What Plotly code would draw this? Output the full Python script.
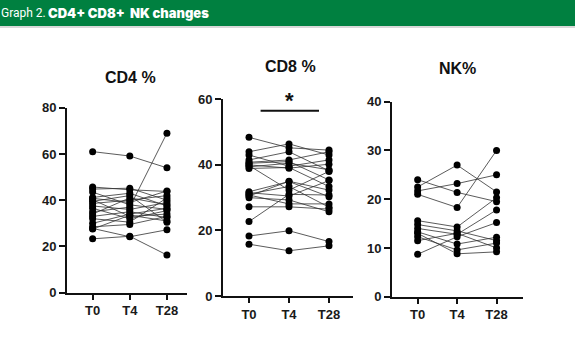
import plotly.graph_objects as go

timepoints = ["T0", "T4", "T28"]

cd4_t0 = [61.0, 45.7, 44.8, 43.5, 41.2, 40.2, 39.5, 38.6, 37.5, 36.5, 34.0, 33.0, 32.0, 30.0, 28.5, 27.8, 27.5, 23.3, 40.8, 35.0]
cd4_t4 = [59.1, 44.5, 45.2, 38.0, 43.0, 33.0, 42.0, 40.0, 36.0, 32.0, 41.0, 35.0, 30.5, 34.0, 29.5, 24.2, 33.5, 24.4, 39.0, 37.0]
cd4_t28 = [54.0, 43.8, 40.0, 36.0, 37.5, 34.0, 30.5, 42.0, 39.0, 35.5, 38.0, 32.5, 41.0, 36.5, 33.0, 27.2, 31.0, 16.3, 44.0, 69.0]

cd8_t0 = [48.4, 44.0, 43.0, 41.5, 40.5, 40.0, 39.4, 38.9, 31.8, 31.1, 30.8, 30.5, 30.0, 27.2, 22.7, 18.3, 15.8, 40.8, 39.8, 31.5]
cd8_t4 = [45.2, 46.4, 39.6, 44.0, 41.0, 39.0, 40.5, 39.2, 34.9, 33.4, 28.1, 35.0, 29.3, 27.2, 31.0, 19.9, 13.8, 41.5, 32.3, 30.5]
cd8_t28 = [44.5, 43.0, 41.5, 38.2, 35.4, 40.2, 38.5, 33.4, 30.3, 27.1, 28.1, 32.3, 25.7, 26.5, 30.8, 16.6, 15.3, 44.0, 38.0, 35.2]

nk_t0 = [24.0, 22.5, 21.7, 21.0, 15.6, 14.8, 14.0, 13.3, 12.3, 11.5, 8.7, 13.0]
nk_t4 = [21.4, 27.0, 23.2, 18.3, 14.3, 13.5, 12.8, 10.8, 9.6, 13.0, 12.3, 8.8]
nk_t28 = [19.5, 21.5, 25.0, 30.0, 20.3, 11.5, 17.8, 12.2, 11.0, 10.0, 15.2, 9.2]

panels = [
    ("CD4 %", [cd4_t0, cd4_t4, cd4_t28], [0, 20, 40, 60, 80], 80),
    ("CD8 %", [cd8_t0, cd8_t4, cd8_t28], [0, 20, 40, 60], 60),
    ("NK%", [nk_t0, nk_t4, nk_t28], [0, 10, 20, 30, 40], 40),
]

W, H = 575, 363
geom = [
    dict(xl=67, xr=187, y0=292.7, y1=107.7, rng=[-0.69, 2.54]),
    dict(xl=223, xr=353, y0=296.0, y1=99.3, rng=[-0.65, 2.6]),
    dict(xl=392, xr=523, y0=296.7, y1=101.7, rng=[-0.65, 2.67]),
]
title_pos = [(130, 77), (290, 66), (457, 68)]

fig = go.Figure()
font_fam = "Liberation Sans, Arial, sans-serif"
tickfont = dict(family=font_fam, size=13, color="#1a1a1a", weight="bold")

for i, (title, series, yticks, ymax) in enumerate(panels):
    n = i + 1
    xa = "x" if n == 1 else f"x{n}"
    ya = "y" if n == 1 else f"y{n}"
    lx, ly = [], []
    for s in range(len(series[0])):
        for t in range(3):
            lx.append(t)
            ly.append(series[t][s])
        lx.append(None)
        ly.append(None)
    fig.add_trace(go.Scatter(x=lx, y=ly, mode="lines", xaxis=xa, yaxis=ya,
                             line=dict(color="rgba(50,50,50,0.8)", width=1),
                             hoverinfo="skip", showlegend=False))
    mx, my = [], []
    for t in range(3):
        for v in series[t]:
            mx.append(t)
            my.append(v)
    fig.add_trace(go.Scatter(x=mx, y=my, mode="markers", xaxis=xa, yaxis=ya,
                             marker=dict(color="black", size=7),
                             showlegend=False))
    g = geom[i]
    xkey = "xaxis" if n == 1 else f"xaxis{n}"
    ykey = "yaxis" if n == 1 else f"yaxis{n}"
    fig.update_layout(**{
        xkey: dict(domain=[g["xl"] / W, g["xr"] / W], anchor=ya, range=g["rng"],
                   tickmode="array", tickvals=[0, 1, 2], ticktext=timepoints,
                   showgrid=False, zeroline=False, showline=True, linecolor="#111",
                   linewidth=2, ticks="outside", ticklen=5, tickwidth=1.5,
                   tickcolor="#111", tickfont=tickfont, automargin=False),
        ykey: dict(domain=[1 - g["y0"] / H, 1 - g["y1"] / H], anchor=xa,
                   range=[0, ymax], tickmode="array", tickvals=yticks,
                   showgrid=False, zeroline=False, showline=True, linecolor="#111",
                   linewidth=2, ticks="outside", ticklen=6, tickwidth=1.5,
                   tickcolor="#111", tickfont=tickfont, automargin=False),
    })
    tx, ty = title_pos[i]
    fig.add_annotation(x=tx / W, y=1 - ty / H, xref="paper", yref="paper",
                       text=title, showarrow=False, xanchor="center", yanchor="middle",
                       font=dict(family=font_fam, size=16, color="#111", weight="bold"))

# significance bar on CD8
fig.add_shape(type="line", xref="x2", yref="paper", x0=0.29, x1=1.75,
              y0=1 - 110.7 / H, y1=1 - 110.7 / H, line=dict(color="#111", width=2))
fig.add_annotation(x=0.5 * (0.29 + 1.75), xref="x2", y=1 - 100 / H, yref="paper",
                   text="*", showarrow=False, yanchor="middle",
                   font=dict(family=font_fam, size=22, color="#111", weight="bold"))

# header bar
fig.add_shape(type="rect", xref="paper", yref="paper", x0=0, x1=1,
              y0=1 - 26 / H, y1=1, fillcolor="#008040", line=dict(width=0), layer="below")
fig.add_shape(type="rect", xref="paper", yref="paper", x0=0, x1=1,
              y0=1 - 28 / H, y1=1 - 26 / H, fillcolor="#d8d8d8", line=dict(width=0), layer="below")
fig.add_annotation(x=-1 / W, y=1 - 13 / H, xref="paper", yref="paper",
                   text="Graph 2.", showarrow=False, xanchor="left", yanchor="middle",
                   font=dict(family="Roboto, Liberation Sans, sans-serif", size=12, color="white"))
fig.add_annotation(x=46 / W, y=1 - 13 / H, xref="paper", yref="paper",
                   text="CD4+ CD8+  NK changes", showarrow=False, xanchor="left", yanchor="middle",
                   font=dict(family="Inter, Liberation Sans, sans-serif", size=13, color="white", weight=900))

fig.update_layout(width=W, height=H, margin=dict(l=0, r=0, t=0, b=0, autoexpand=False),
                  paper_bgcolor="white", plot_bgcolor="white", showlegend=False)

fig.write_html("out.html", config={"displayModeBar": False},
               post_script="document.body.style.margin='0px';document.body.style.padding='0px';")
